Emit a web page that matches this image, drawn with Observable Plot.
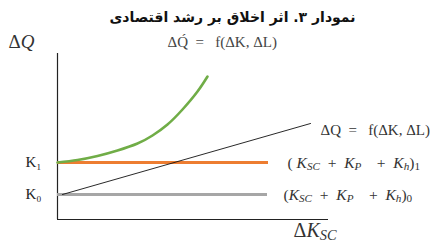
<!DOCTYPE html>
<html>
<head>
<meta charset="utf-8">
<script src="https://cdn.jsdelivr.net/npm/d3@7"></script>
<script src="https://cdn.jsdelivr.net/npm/@observablehq/plot@0.6"></script>
<style>
  html, body { margin: 0; padding: 0; background: #fff; }
  svg { display: block; }
  svg text { white-space: pre; }
</style>
</head>
<body>
<div id="chart"></div>
<script>
// ---- data ----
const title = "نمودار ۳. اثر اخلاق بر رشد اقتصادی";
const levelLabels = ["K₀", "K₁"];
const levelValues = [25, 57];
const levelEnds = [210, 211];
const levelColors = ["#a6a6a6", "#ed7d31"];
const lineX = [5, 253];
const lineY = [25, 96];
const curveX = [0, 20, 40, 60, 80, 95, 110, 125, 140, 150];
const curveY = [57, 59.5, 63.5, 69, 76, 84, 95, 110, 128, 143];

const levels = levelLabels.map((k, i) => ({k, y: levelValues[i], x2: levelEnds[i], c: levelColors[i]}));
const straight = lineX.map((x, i) => ({x, y: lineY[i]}));
const curve = curveX.map((x, i) => ({x, y: curveY[i]}));

const serif = "'Liberation Serif', 'DejaVu Serif', serif";

const plot = Plot.plot({
  width: 433,
  height: 245,
  marginLeft: 57,
  marginRight: 105,
  marginTop: 53,
  marginBottom: 26,
  x: {domain: [0, 271], axis: null},
  y: {domain: [0, 166], axis: null},
  style: {background: "#fff", overflow: "visible"},
  marks: [
    Plot.ruleX([0], {y1: 0, y2: 166, stroke: "#222", strokeWidth: 1.2}),
    Plot.ruleY([0], {x1: 0, x2: 271, stroke: "#222", strokeWidth: 1.2}),
    Plot.ruleY(levels, {y: "y", x1: 0, x2: "x2", stroke: "c", strokeWidth: 3}),
    Plot.line(straight, {x: "x", y: "y", stroke: "#111", strokeWidth: 0.9}),
    Plot.line(curve, {x: "x", y: "y", stroke: "#70ad47", strokeWidth: 2.6, curve: "natural"}),
    Plot.text(levels, {x: -24, y: "y", text: "k", fontFamily: serif, fontSize: 15, fill: "#222"}),
    Plot.text([title], {x: 175, y: 202, text: d => d, fontFamily: "'DejaVu Sans', 'Noto Sans', sans-serif", fontWeight: "bold", fontSize: 14, fill: "#111"}),
    Plot.text(["@DQ"], {x: -49, y: 178, text: d => d, textAnchor: "start", fontFamily: serif, fontSize: 19, fill: "#333"}),
    Plot.text(["ΔQ́  =   f(ΔK, ΔL)"], {x: 110, y: 177, text: d => d, textAnchor: "start", fontFamily: serif, fontSize: 15, fill: "#444"}),
    Plot.text(["ΔQ  =   f(ΔK, ΔL)"], {x: 263, y: 89, text: d => d, textAnchor: "start", fontFamily: serif, fontSize: 15, fill: "#333"}),
    Plot.text(["@L1"], {x: 230, y: 56, text: d => d, textAnchor: "start", fontFamily: serif, fontSize: 15.5, fill: "#333"}),
    Plot.text(["@L0"], {x: 226, y: 24, text: d => d, textAnchor: "start", fontFamily: serif, fontSize: 15.5, fill: "#333"}),
    Plot.text(["@DK"], {x: 236, y: -11, text: d => d, textAnchor: "start", fontFamily: serif, fontSize: 20, fill: "#333"})
  ]
});

// rich text (italics / subscripts) for the math labels
const rich = {
  "@DQ": [["Δ"], ["Q", "i"]],
  "@DK": [["Δ"], ["K", "i"], ["SC", "is"]],
  "@L1": [["( "], ["K", "i"], ["SC", "is"], ["  +  "], ["K", "i"], ["P", "is"], ["    +  "], ["K", "i"], ["h", "is"], [")"], ["1", "s"]],
  "@L0": [["("], ["K", "i"], ["SC", "is"], ["  +  "], ["K", "i"], ["P", "is"], ["    +  "], ["K", "i"], ["h", "is"], [")"], ["0", "s"]]
};
d3.select(plot).selectAll("text").each(function () {
  const t = this.textContent;
  if (!(t in rich)) return;
  const el = d3.select(this);
  el.text(null);
  for (const [s, f = ""] of rich[t]) {
    const sp = el.append("tspan").text(s);
    if (f.includes("i")) sp.attr("font-style", "italic");
    if (f.includes("s")) sp.attr("font-size", "0.72em").attr("baseline-shift", "-22%");
  }
});

document.getElementById("chart").append(plot);
</script>
</body>
</html>
